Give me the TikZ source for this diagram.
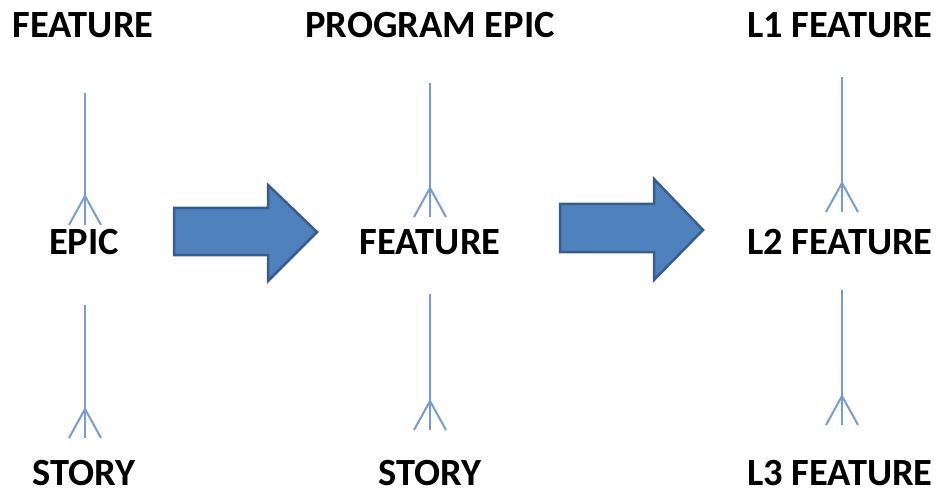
\documentclass[tikz,border=0pt]{standalone}
\usepackage{fontspec}
\setmainfont{Carlito}
\definecolor{linkblue}{RGB}{122,156,204}
\definecolor{arrowfill}{RGB}{79,129,189}
\definecolor{arrowedge}{RGB}{56,93,138}
\begin{document}
\begin{tikzpicture}[x=1pt,y=-1pt,
  lbl/.style={anchor=base,inner sep=0pt,font=\fontsize{38.5}{42}\selectfont\bfseries,text=black},
  conn/.style={draw=linkblue,line width=2pt},
  bigarrow/.style={fill=arrowfill,draw=arrowedge,line width=2.5pt,line join=miter},
  crow/.pic={\draw[conn] (-16,0) -- (0,-29) -- (16,0);}]
\useasboundingbox (0,0) rectangle (941,494);
% column 1
\node[lbl] (f1) at (83,38) {FEATURE};
\node[lbl] (e1) at (84,254) {EPIC};
\node[lbl] (s1) at (84,485) {STORY};
% column 2
\node[lbl] (p2) at (430,38) {PROGRAM EPIC};
\node[lbl] (f2) at (430,254) {FEATURE};
\node[lbl] (s2) at (430,485) {STORY};
% column 3
\node[lbl] (l1) at (840,38) {L1 FEATURE};
\node[lbl] (l2) at (840,254) {L2 FEATURE};
\node[lbl] (l3) at (840,485) {L3 FEATURE};
% connector ends
\coordinate (c1a) at (85,93);  \coordinate (c1b) at (85,225);
\coordinate (c1c) at (85,305); \coordinate (c1d) at (85,438);
\coordinate (c2a) at (430,83); \coordinate (c2b) at (430,217);
\coordinate (c2c) at (430,294);\coordinate (c2d) at (430,430);
\coordinate (c3a) at (842,77); \coordinate (c3b) at (842,212);
\coordinate (c3c) at (842,290);\coordinate (c3d) at (842,425);
\foreach \a/\b in {c1a/c1b,c1c/c1d,c2a/c2b,c2c/c2d,c3a/c3b,c3c/c3d}{
  \draw[conn] (\a) -- (\b);
  \pic at (\b) {crow};
}
% block arrows
\draw[bigarrow] (174,208) -- (268,208) -- (268,185) -- (317,232) -- (268,281) -- (268,255) -- (174,255) -- cycle;
\draw[bigarrow] (560,204) -- (654,204) -- (654,179) -- (703,230) -- (654,280) -- (654,252) -- (560,252) -- cycle;
\end{tikzpicture}
\end{document}
